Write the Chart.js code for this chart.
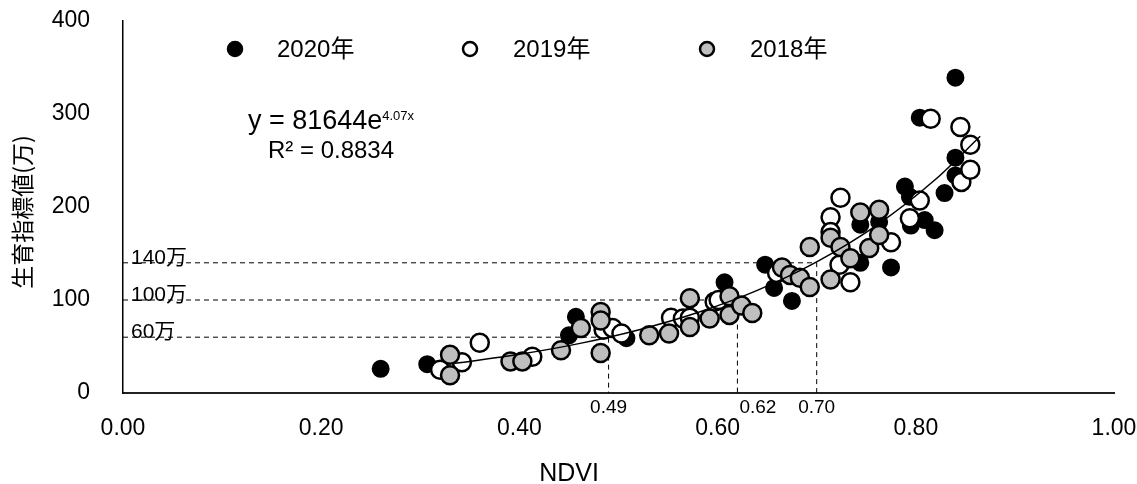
<!DOCTYPE html>
<html>
<head>
<meta charset="utf-8">
<script src="https://cdn.jsdelivr.net/npm/chart.js@4"></script>
<style>
  html, body { margin: 0; padding: 0; background: #fff; }
  canvas { display: block; }
</style>
</head>
<body>
<canvas id="ndviChart" width="1137" height="484"></canvas>
<script>
// ---- data ----
const ndvi2020 = [0.26, 0.307, 0.45, 0.457, 0.508, 0.607, 0.648, 0.657, 0.675, 0.744, 0.744, 0.763, 0.775, 0.789, 0.794, 0.795, 0.804, 0.809, 0.819, 0.829, 0.84, 0.84, 0.84];
const val2020  = [26, 31, 62, 82, 59, 119, 138, 113, 99, 181, 140, 184, 135, 222, 211, 180, 296, 186, 175, 215, 234, 253, 339];

const ndvi2019 = [0.32, 0.342, 0.36, 0.413, 0.485, 0.494, 0.503, 0.553, 0.565, 0.572, 0.597, 0.601, 0.66, 0.714, 0.714, 0.723, 0.724, 0.734, 0.775, 0.794, 0.804, 0.815, 0.845, 0.846, 0.855, 0.855];
const val2019  = [25, 33, 54, 39, 68, 70, 64, 81, 80, 81, 98, 100, 129, 189, 173, 138, 210, 119, 162, 188, 207, 295, 286, 227, 267, 240];

const ndvi2018 = [0.33, 0.33, 0.391, 0.403, 0.442, 0.462, 0.482, 0.482, 0.482, 0.531, 0.551, 0.572, 0.572, 0.592, 0.612, 0.612, 0.624, 0.635, 0.665, 0.673, 0.683, 0.693, 0.693, 0.714, 0.714, 0.724, 0.734, 0.744, 0.753, 0.763, 0.763];
const val2018  = [41, 19, 34, 34, 46, 70, 87, 78, 43, 62, 64, 71, 102, 80, 104, 84, 94, 86, 135, 127, 124, 157, 114, 167, 122, 157, 145, 194, 156, 197, 170];

// exponential trend curve
const trendX = [0.335, 0.40, 0.46, 0.52, 0.58, 0.64, 0.70, 0.76, 0.82, 0.865];
const trendY = [31.9, 41.6, 53.1, 67.8, 86.5, 110.4, 141.0, 180.0, 229.8, 276.0];

// dashed guide lines: growth index level (万) and matching NDVI
const guideLevels = [60, 100, 140];
const guideNdvi   = [0.49, 0.62, 0.70];
const guideLevelLabels = ['60万', '100万', '140万'];
const guideNdviLabels  = ['0.49', '0.62', '0.70'];

const seriesNames = ['2020年', '2019年', '2018年'];
const equationText = 'y = 81644e';
const equationExp  = '4.07x';
const r2Text       = 'R² = 0.8834';
const xTitle = 'NDVI';
const yTitle = '生育指標値(万)';

// ---- helpers ----
const latin = '"Liberation Sans", Arial, sans-serif';
const cjk = '"Liberation Sans", "Noto Sans CJK JP", sans-serif';

function toPoints(xs, ys) {
  return xs.map((x, i) => ({ x: x, y: ys[i] }));
}

const pointStyles = [
  { bg: '#000000', border: '#000000', r: 8, bw: 2 },
  { bg: '#ffffff', border: '#000000', r: 9, bw: 2.5 },
  { bg: '#bfbfbf', border: '#000000', r: 9, bw: 2.5 }
];

// guide datasets: horizontal from the y axis, then down to the x axis
const guideSets = guideLevels.map((lvl, i) => ({
  label: 'guide' + i,
  data: [{ x: 0, y: lvl }, { x: guideNdvi[i], y: lvl }, { x: guideNdvi[i], y: 0 }],
  showLine: true,
  borderColor: '#000',
  borderWidth: 1,
  borderDash: [5, 4],
  pointRadius: 0,
  fill: false,
  order: 10
}));

// texts that Excel places freely on the chart
const textPlugin = {
  id: 'chartTexts',
  afterDatasetsDraw(chart) {
    const ctx = chart.ctx;
    const xs = chart.scales.x;
    const ys = chart.scales.y;
    const area = chart.chartArea;
    ctx.save();
    ctx.fillStyle = '#000';

    // legend
    const legendMarkX = [235, 470, 707];
    const legendTextX = [277, 513, 750];
    ctx.font = '24px ' + cjk;
    ctx.textBaseline = 'middle';
    ctx.textAlign = 'left';
    seriesNames.forEach((name, i) => {
      const st = pointStyles[i];
      ctx.beginPath();
      ctx.arc(legendMarkX[i], 49, 7, 0, Math.PI * 2);
      ctx.fillStyle = st.bg;
      ctx.fill();
      ctx.lineWidth = 2.5;
      ctx.strokeStyle = st.border;
      ctx.stroke();
      ctx.fillStyle = '#000';
      ctx.fillText(name, legendTextX[i], 50);
    });

    // equation and R²
    ctx.font = '27px ' + latin;
    const wMain = ctx.measureText(equationText).width;
    ctx.font = '13px ' + latin;
    const wExp = ctx.measureText(equationExp).width;
    const eqLeft = 331 - (wMain + wExp) / 2;
    ctx.font = '27px ' + latin;
    ctx.textAlign = 'left';
    ctx.textBaseline = 'alphabetic';
    ctx.fillText(equationText, eqLeft, 129);
    ctx.font = '13px ' + latin;
    ctx.fillText(equationExp, eqLeft + wMain, 120);
    ctx.font = '24px ' + latin;
    ctx.textAlign = 'center';
    ctx.fillText(r2Text, 331, 158);

    // guide labels on the y side
    ctx.font = '21px ' + cjk;
    ctx.textAlign = 'left';
    ctx.textBaseline = 'alphabetic';
    guideLevels.forEach((lvl, i) => {
      ctx.fillText(guideLevelLabels[i], area.left + 8, ys.getPixelForValue(lvl) + 1);
    });

    // guide labels under the x axis
    ctx.font = '19px ' + latin;
    ctx.textBaseline = 'alphabetic';
    guideNdvi.forEach((v, i) => {
      const px = xs.getPixelForValue(v);
      if (i === 1) {
        ctx.textAlign = 'left';
        ctx.fillText(guideNdviLabels[i], px + 2, area.bottom + 20);
      } else {
        ctx.textAlign = 'center';
        ctx.fillText(guideNdviLabels[i], px, area.bottom + 20);
      }
    });

    // axis titles
    ctx.font = '25px ' + latin;
    ctx.textAlign = 'center';
    ctx.textBaseline = 'middle';
    ctx.fillText(xTitle, 569, 474);

    ctx.translate(22, 212);
    ctx.rotate(-Math.PI / 2);
    ctx.font = '23px "Noto Sans CJK JP", sans-serif';
    ctx.fillText(yTitle, 0, 0);
    ctx.restore();
  }
};

const seriesSets = [
  [ndvi2020, val2020],
  [ndvi2019, val2019],
  [ndvi2018, val2018]
].map((pair, i) => ({
  label: seriesNames[i],
  data: toPoints(pair[0], pair[1]),
  backgroundColor: pointStyles[i].bg,
  borderColor: pointStyles[i].border,
  pointRadius: pointStyles[i].r,
  pointHoverRadius: pointStyles[i].r,
  borderWidth: pointStyles[i].bw,
  showLine: false,
  order: 3 - i // 2018 on top, 2020 at the bottom
}));

new Chart(document.getElementById('ndviChart'), {
  type: 'scatter',
  data: {
    datasets: [
      {
        label: 'trend',
        data: toPoints(trendX, trendY),
        showLine: true,
        borderColor: '#000',
        borderWidth: 1.5,
        pointRadius: 0,
        cubicInterpolationMode: 'monotone',
        order: 0
      },
      ...seriesSets,
      ...guideSets
    ]
  },
  options: {
    responsive: false,
    animation: false,
    devicePixelRatio: 1,
    layout: { padding: { top: 21, right: 23, left: 0, bottom: 0 } },
    plugins: {
      legend: { display: false },
      tooltip: { enabled: false }
    },
    scales: {
      x: {
        type: 'linear',
        min: 0,
        max: 1,
        grid: { display: false, drawTicks: false },
        border: { display: true, color: '#222', width: 2 },
        ticks: {
          stepSize: 0.2,
          padding: 22,
          color: '#000',
          font: { family: latin, size: 23 },
          callback: (v) => v.toFixed(2)
        },
        // fixed size; tick padding would otherwise be added to the end margins
        afterFit: (scale) => {
          scale.height = 91;
          scale.paddingLeft = 0;
          scale.paddingRight = 0;
        }
      },
      y: {
        min: 0,
        max: 400,
        grid: { display: false, drawTicks: false },
        border: { display: true, color: '#000', width: 1.5 },
        ticks: {
          stepSize: 100,
          padding: 33,
          color: '#000',
          font: { family: latin, size: 23 }
        },
        afterFit: (scale) => {
          scale.width = 123;
          scale.paddingTop = 0;
          scale.paddingBottom = 0;
        }
      }
    }
  },
  plugins: [textPlugin]
});
</script>
</body>
</html>
